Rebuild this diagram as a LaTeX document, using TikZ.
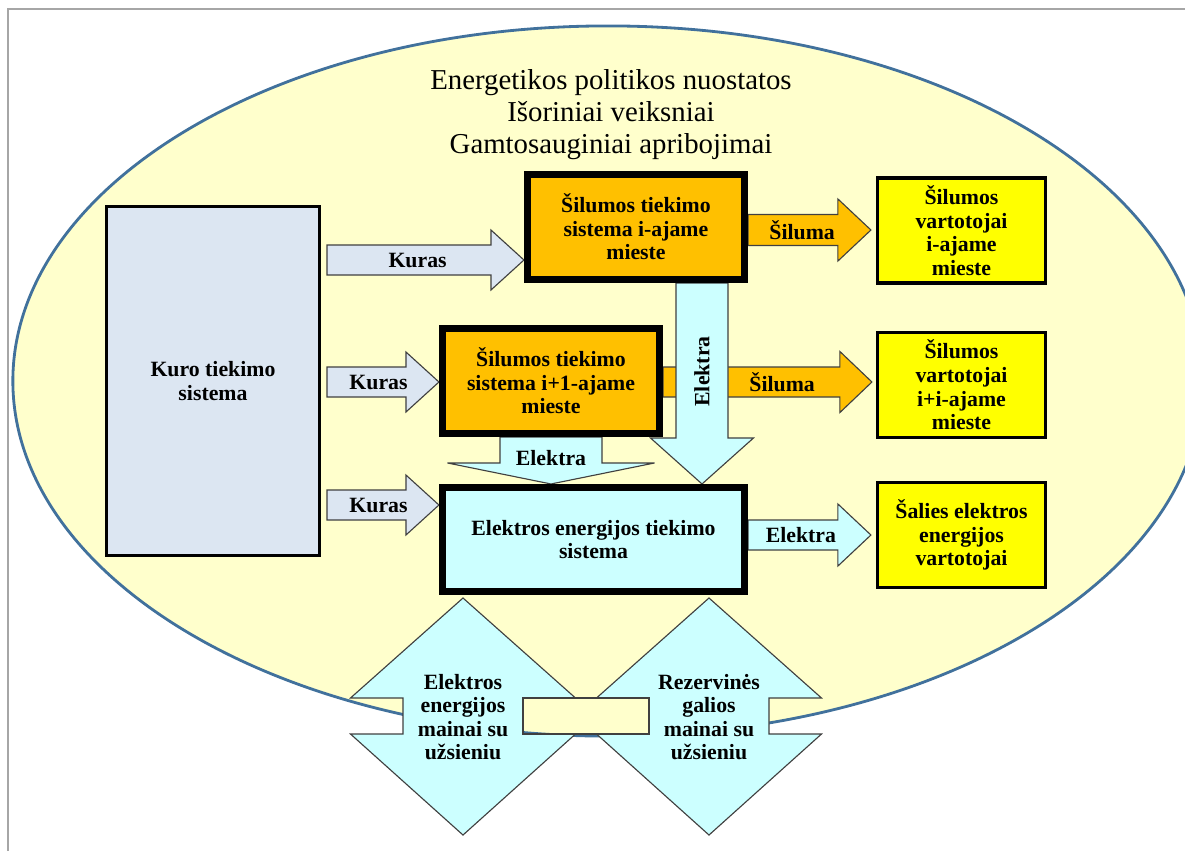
\documentclass[tikz,border=0pt]{standalone}
\usepackage{fontspec}
\setmainfont{Liberation Serif}
\usetikzlibrary{calc}
\usetikzlibrary{backgrounds}
\definecolor{fuelblue}{RGB}{220,230,242}
\definecolor{heatorange}{RGB}{255,192,0}
\definecolor{eleccyan}{RGB}{204,255,255}
\definecolor{consyellow}{RGB}{255,255,0}
\definecolor{fieldyellow}{RGB}{255,255,204}
\definecolor{rimblue}{RGB}{65,113,156}
\newcommand{\hblock}[6]{\draw[#1] ($#2+(0,#4)$) -- ($#3+(-#6,#4)$) -- ($#3+(-#6,#5)$) -- #3
  -- ($#3+(-#6,-#5)$) -- ($#3+(-#6,-#4)$) -- ($#2+(0,-#4)$) -- cycle;}
\newcommand{\vblock}[6]{\draw[#1] ($#2+(#4,0)$) -- ($#3+(#4,-#6)$) -- ($#3+(#5,-#6)$) -- #3
  -- ($#3+(-#5,-#6)$) -- ($#3+(-#4,-#6)$) -- ($#2+(-#4,0)$) -- cycle;}

\begin{document}
\begin{tikzpicture}[x=0.025cm, y=-0.025cm,
    lbl/.style={font=\bfseries\fontsize{15.5}{16.8}\selectfont, align=center},
    box/.style={draw, lbl},
    fuelbox/.style={box, fill=fuelblue, line width=2.1pt, minimum width=5.325cm, minimum height=8.725cm},
    heatbox/.style={box, fill=heatorange, line width=5pt, minimum width=5.425cm, minimum height=2.625cm},
    elecbox/.style={box, fill=eleccyan, line width=5pt, minimum width=7.55cm, minimum height=2.6cm},
    consbox/.style={box, fill=consyellow, line width=2.5pt, minimum width=4.19cm, minimum height=2.62cm},
    flow/.style={draw=black!75, line width=0.8pt}]
  \useasboundingbox (0,0) rectangle (1185,851);

  \node[fuelbox] (kuro) at (213,381) {Kuro tiekimo\\sistema};
  \node[heatbox] (heat1) at (636,227) {Šilumos tiekimo\\sistema i-ajame\\mieste};
  \node[heatbox] (heat2) at (551,381) {Šilumos tiekimo\\sistema i+1-ajame\\mieste};
  \node[elecbox] (elec) at (593.5,539.5) {Elektros energijos tiekimo\\sistema};
  \node[consbox] (cons1) at (961.5,230.5) {Šilumos\\vartotojai\\i-ajame\\mieste};
  \node[consbox] (cons2) at (961.5,385) {Šilumos\\vartotojai\\i+i-ajame\\mieste};
  \node[consbox] (cons3) at (961.5,535) {Šalies elektros\\energijos\\vartotojai};

  \begin{scope}[on background layer]
    \draw[gray!70, line width=1pt] (8,851) -- (8,9) -- (1185,9);
    \draw[rimblue, fill=fieldyellow, line width=2pt] (608,381) ellipse [x radius=14.875cm, y radius=8.875cm];
    \node[font=\fontsize{20.5}{22.8}\selectfont, align=center] (policy) at (611,115)
      {Energetikos politikos nuostatos\\Išoriniai veiksniai\\Gamtosauginiai apribojimai};

    \foreach \y/\b in {260/heat1,382/heat2,505/elec}{
      \coordinate (tail) at ($(kuro.east |- 0,\y)+(6,0)$);
      \coordinate (tip) at (\b.west |- 0,\y);
      \hblock{flow, fill=fuelblue}{(tail)}{(tip)}{15}{30}{33}
      \node[lbl] at ($(tail)!0.46!(tip)$) {Kuras};
    }

    \coordinate (s1a) at (heat1.east |- 0,230);
    \coordinate (s1b) at ($(cons1.west |- 0,230)+(-5,0)$);
    \hblock{flow, fill=heatorange}{(s1a)}{(s1b)}{15.5}{31}{33}
    \node[lbl] at ($(s1a)!0.44!(s1b)$) {Šiluma};

    \coordinate (s2a) at (heat2.east |- 0,382);
    \coordinate (s2b) at ($(cons2.west |- 0,382)+(-4,0)$);
    \hblock{flow, fill=heatorange}{(s2a)}{(s2b)}{15}{30.5}{32}
    \node[lbl] at ($(s2a)!0.57!(s2b)$) {Šiluma};

    \coordinate (e1a) at (heat1.south -| 702,0);
    \coordinate (e1b) at (elec.north -| 702,0);
    \vblock{flow, fill=eleccyan}{(e1a)}{(e1b)}{26}{51.5}{46}
    \node[lbl, rotate=90] at ($(e1a)!0.44!(e1b)$) {Elektra};

    \coordinate (e2a) at (heat2.south);
    \coordinate (e2b) at (elec.north -| heat2.south);
    \vblock{flow, fill=eleccyan}{(e2a)}{(e2b)}{51}{103.5}{21}
    \node[lbl] at ($(e2a)!0.45!(e2b)$) {Elektra};

    \coordinate (e3a) at (elec.east |- 0,535);
    \coordinate (e3b) at ($(cons3.west |- 0,535)+(-5,0)$);
    \hblock{flow, fill=eleccyan}{(e3a)}{(e3b)}{15}{31}{33}
    \node[lbl] at ($(e3a)!0.43!(e3b)$) {Elektra};
  \end{scope}

  \foreach \x/\n/\t in {463/exch1/{Elektros\\energijos\\mainai su\\užsieniu},
                        709/exch2/{Rezervinės\\galios\\mainai su\\užsieniu}}{
    \draw[flow, fill=eleccyan] (\x,598) -- (\x+112.5,698) -- (\x+60,698) -- (\x+60,734)
      -- (\x+112.5,734) -- (\x,835) -- (\x-112.5,734) -- (\x-60,734) -- (\x-60,698)
      -- (\x-112.5,698) -- cycle;
    \node[lbl] (\n) at (\x,717) {\t};
  }
  \draw[flow] ($(exch1)+(60,-19)$) rectangle ($(exch2)+(-60,17)$);
\end{tikzpicture}
\end{document}
